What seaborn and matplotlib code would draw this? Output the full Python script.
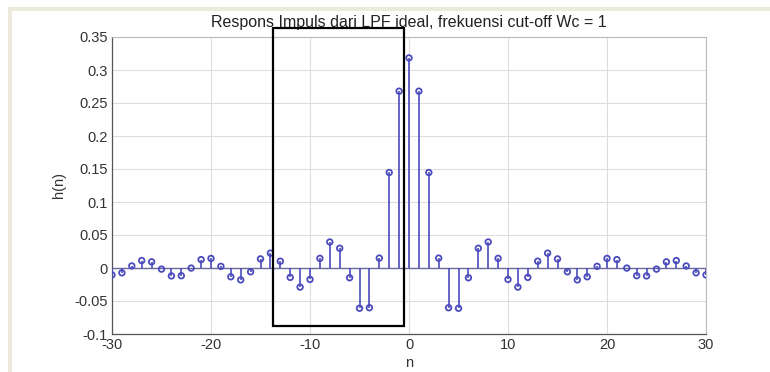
import numpy as np
import pandas as pd
import matplotlib
matplotlib.use("Agg")
import matplotlib.pyplot as plt
from matplotlib.patches import Rectangle
import seaborn as sns

# sample index and impulse response values
n = list(range(-30, 31))
h_pos = [0.2679, 0.1447, 0.0150, -0.0602, -0.0610, -0.0148, 0.0299, 0.0394,
         0.0146, -0.0173, -0.0289, -0.0142, 0.0103, 0.0225, 0.0138, -0.0057,
         -0.0180, -0.0133, 0.0025, 0.0145, 0.0127, -0.0001, -0.0117, -0.0120,
         -0.0017, 0.0093, 0.0113, 0.0031, -0.0073, -0.0105]
h0 = 0.3183
h = h_pos[::-1] + [h0] + h_pos

x_ticks = [-30, -20, -10, 0, 10, 20, 30]
y_ticks = [-0.1, -0.05, 0, 0.05, 0.1, 0.15, 0.2, 0.25, 0.3, 0.35]
y_labels = ["-0.1", "-0.05", "0", "0.05", "0.1", "0.15", "0.2", "0.25", "0.3", "0.35"]

df = pd.DataFrame({"n": n, "h": h})

sns.set_theme(style="white")
plt.rcParams["font.family"] = ["Liberation Sans", "DejaVu Sans"]

fig = plt.figure(figsize=(7.7, 3.72), dpi=100)
fig.patch.set_facecolor("white")
# beige window frame strips
fig.add_artist(Rectangle((8 / 770, 0), 4 / 770, 1 - 7 / 372, transform=fig.transFigure,
                         color="#ece9dd", lw=0, zorder=0))
fig.add_artist(Rectangle((8 / 770, 1 - 11 / 372), 1, 4 / 372, transform=fig.transFigure,
                         color="#ece9dd", lw=0, zorder=0))

ax = fig.add_axes([112 / 770, 1 - 334 / 372, 594 / 770, 297 / 372])

blue = "#4b4bbd"
ax.vlines(df["n"], 0, df["h"], color=blue, lw=1.2, zorder=3)
ax.axhline(0, color="#6a6a9a", lw=1.0, zorder=2)
sns.scatterplot(data=df, x="n", y="h", ax=ax, marker="o", s=16,
                facecolor="none", edgecolor=blue, linewidth=1.3, zorder=4)

ax.set_xlim(-30, 30)
ax.set_ylim(-0.1, 0.35)
ax.set_xticks(x_ticks)
ax.set_xticklabels([str(t) for t in x_ticks])
ax.set_yticks(y_ticks)
ax.set_yticklabels(y_labels)
ax.grid(True, color="#dddddd", lw=0.8)
ax.tick_params(labelsize=10.5, colors="#333333", length=3, direction="in", pad=3)

for s in ["left", "bottom"]:
    ax.spines[s].set_color("#555555")
    ax.spines[s].set_linewidth(0.9)
for s in ["top", "right"]:
    ax.spines[s].set_color("#bbbbbb")
    ax.spines[s].set_linewidth(0.8)

ax.set_xlabel("n", fontsize=10.5, color="#333333", labelpad=3)
ax.set_ylabel("h(n)", fontsize=10.5, color="#333333", labelpad=6)
ax.set_title("Respons Impuls dari LPF ideal, frekuensi cut-off Wc = 1",
             fontsize=11.5, color="#222222", pad=7)

# black highlight box drawn over the plot
ax.add_patch(Rectangle((-13.7, -0.088), 13.2, 0.452, fill=False,
                       edgecolor="black", lw=1.6, clip_on=False, zorder=6))

fig.savefig("out.png", dpi=100)
